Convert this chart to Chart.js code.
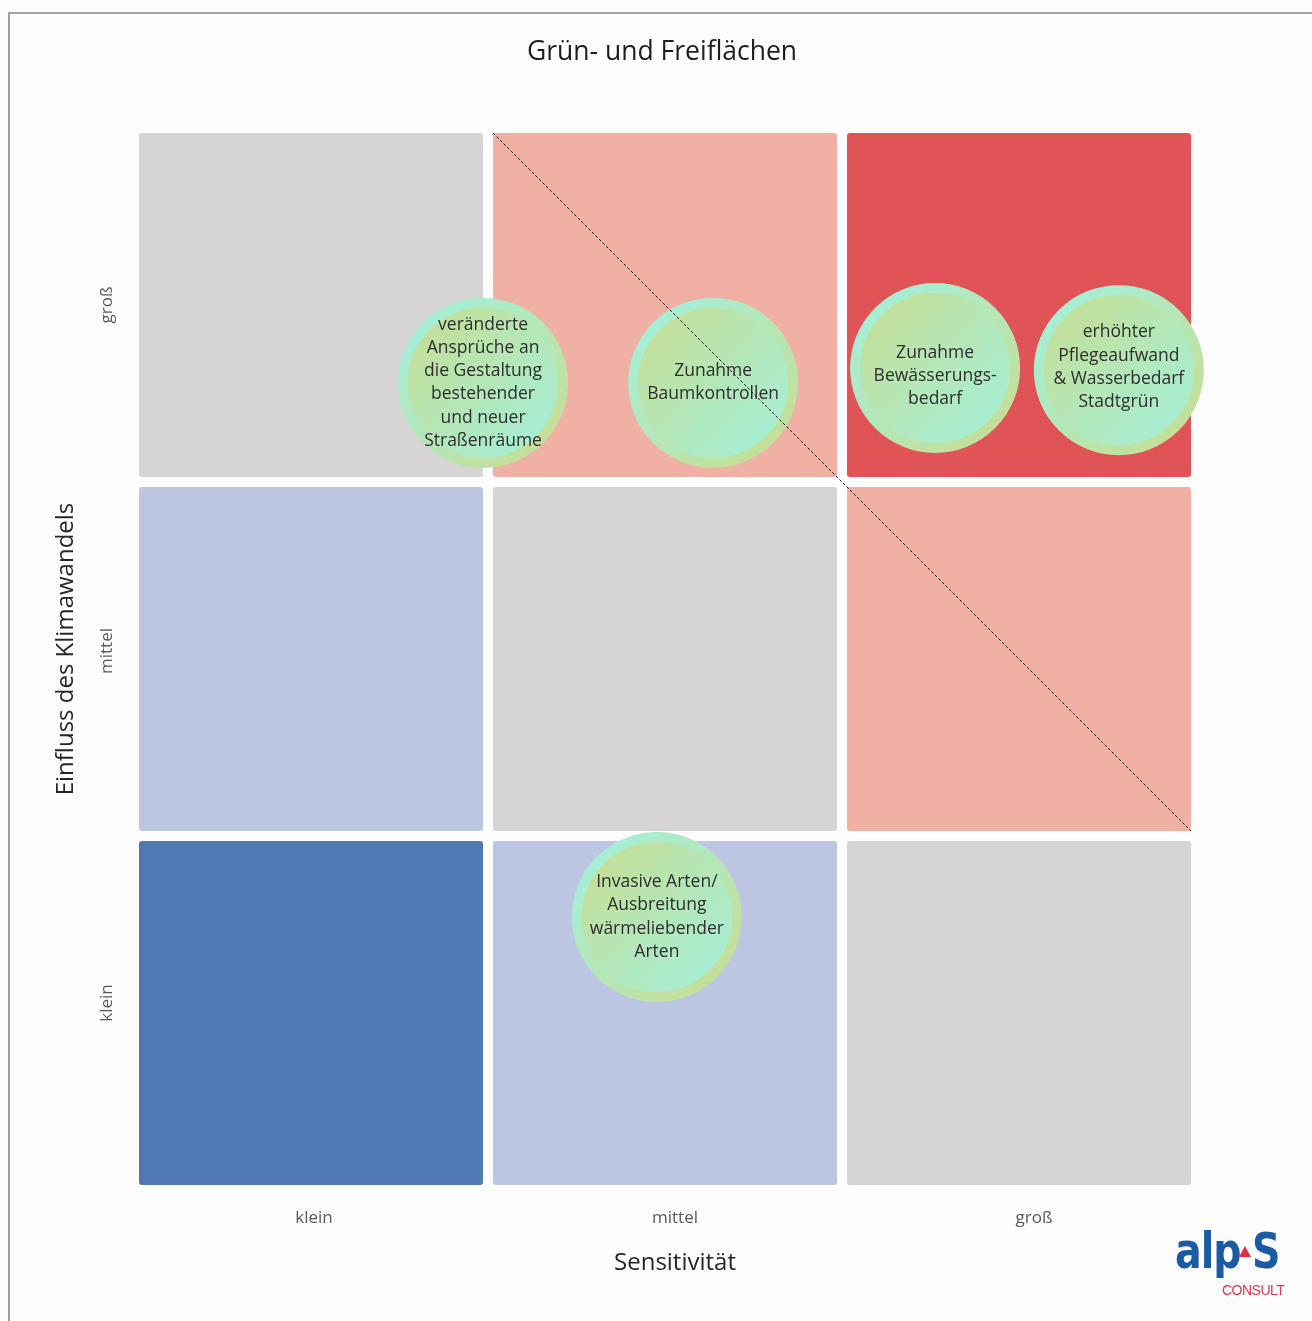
<!DOCTYPE html>
<html>
<head>
<meta charset="utf-8">
<script src="https://cdn.jsdelivr.net/npm/chart.js@4.4.1/dist/chart.umd.min.js"></script>
<style>
    html, body { margin: 0; padding: 0; background: #fdfdfd; }
    #wrap { position: absolute; left: 0; top: 0; width: 1312px; height: 1321px; }
    #frame {
        position: absolute; left: 8px; top: 12px; width: 1304px; height: 1309px;
        border-top: 2px solid #a2a2a2; border-left: 2px solid #a2a2a2; box-sizing: border-box;
        pointer-events: none;
    }
    #logo { position: absolute; left: 1172px; top: 1222px; width: 130px; height: 90px; }
    #logo .word {
        position: absolute; top: 0px; font-family: "DejaVu Sans Condensed", "DejaVu Sans";
        font-weight: bold; font-size: 44px; color: #1b5aa5; letter-spacing: -1px;
        transform-origin: 0 0; transform: scale(1, 1.12);
    }
    #logo .alp { left: 3px; }
    #logo .s { left: 80px; }
    #logo .tri {
        position: absolute; left: 67px; top: 24px; width: 0; height: 0;
        border-left: 6px solid transparent; border-right: 6px solid transparent;
        border-bottom: 11px solid #e03040;
    }
    #logo .consult {
        position: absolute; left: 50px; top: 60px; font-family: "Liberation Sans", sans-serif;
        font-size: 14px; color: #e0364a; letter-spacing: -0.5px;
    }
</style>
</head>
<body>
<div id="wrap"><canvas id="matrixChart"></canvas></div>
<div id="frame"></div>
<div id="logo">
    <span class="word alp">alp</span><span class="tri"></span><span class="word s">S</span>
    <span class="consult">CONSULT</span>
</div>
<script>
// Axis categories (x: Sensitivität, y: Einfluss des Klimawandels), from low to high
const xLabels = ["klein", "mittel", "groß"];
const yLabels = ["klein", "mittel", "groß"];

// risk level of each cell, rows from bottom (klein) to top (groß)
const cellLevels = [
    [0, 1, 2],
    [1, 2, 3],
    [2, 3, 4]
];

// impacts placed on the matrix
const impactTexts = [
    ["veränderte", "Ansprüche an", "die Gestaltung", "bestehender", "und neuer", "Straßenräume"],
    ["Zunahme", "Baumkontrollen"],
    ["Zunahme", "Bewässerungs-", "bedarf"],
    ["erhöhter", "Pflegeaufwand", "& Wasserbedarf", "Stadtgrün"],
    ["Invasive Arten/", "Ausbreitung", "wärmeliebender", "Arten"]
];
const impactX = [0.986, 1.636, 2.263, 2.782, 1.477];
const impactY = [2.280, 2.280, 2.322, 2.316, 0.771];

// dashed diagonal
const diagonalX = [1.014, 2.986];
const diagonalY = [2.986, 1.014];

const levelColors = ["#5079b3", "#bcc6e2", "#d6d5d3", "#f1b0a4", "#e05458"];

function bubbleGradient(ctx, reverse) {
    const chart = ctx.chart;
    const green = "#c3df98";
    const mint = "#a6eed6";
    if (!ctx.raw || !chart.scales.x) return green;
    const x = chart.scales.x.getPixelForValue(ctx.raw.x);
    const y = chart.scales.y.getPixelForValue(ctx.raw.y);
    if (!isFinite(x) || !isFinite(y)) return green;
    const g = chart.ctx.createLinearGradient(x - 60, y - 60, x + 60, y + 60);
    g.addColorStop(0, reverse ? mint : green);
    g.addColorStop(1, reverse ? green : mint);
    return g;
}

// draws the coloured cells behind everything, and the texts on top
const cellPlugin = {
    id: "cells",
    beforeDatasetsDraw(chart) {
        const { ctx, scales: { x, y } } = chart;
        ctx.save();
        for (let r = 0; r < cellLevels.length; r++) {
            for (let c = 0; c < cellLevels[r].length; c++) {
                const x0 = x.getPixelForValue(c) + 5;
                const x1 = x.getPixelForValue(c + 1) - 5;
                const y0 = y.getPixelForValue(r + 1) + 5;
                const y1 = y.getPixelForValue(r) - 5;
                ctx.fillStyle = levelColors[cellLevels[r][c]];
                ctx.beginPath();
                ctx.roundRect(x0, y0, x1 - x0, y1 - y0, 3);
                ctx.fill();
            }
        }
        ctx.restore();
    },
    afterDatasetsDraw(chart) {
        const { ctx, scales: { x, y } } = chart;
        const meta = chart.getDatasetMeta(1);
        ctx.save();
        // text inside the bubbles
        ctx.font = "17.5px 'Open Sans'";
        ctx.fillStyle = "#2e2e2e";
        ctx.textAlign = "center";
        ctx.textBaseline = "middle";
        const textShift = [0, 0, 8, -3, 0];
        meta.data.forEach((pt, i) => {
            const lines = impactTexts[i];
            const lh = 23.2;
            const top = pt.y + textShift[i] - (lines.length - 1) * lh / 2;
            lines.forEach((t, k) => ctx.fillText(t, pt.x, top + k * lh));
        });

        // title
        ctx.fillStyle = "#1e1e1e";
        ctx.font = "26.5px 'Open Sans'";
        ctx.fillText("Grün- und Freiflächen", 662, 52);

        // tick labels
        ctx.fillStyle = "#5a5a5a";
        ctx.font = "17px 'Open Sans'";
        const xOff = [3, 10, 15];
        xLabels.forEach((l, i) => ctx.fillText(l, x.getPixelForValue(i + 0.5) + xOff[i], 1218));
        const yOff = [-10, -8, 0];
        yLabels.forEach((l, i) => {
            ctx.save();
            ctx.translate(107, y.getPixelForValue(i + 0.5) + yOff[i]);
            ctx.rotate(-Math.PI / 2);
            ctx.fillText(l, 0, 0);
            ctx.restore();
        });

        // axis titles
        ctx.fillStyle = "#262626";
        ctx.font = "24px 'Open Sans'";
        ctx.fillText("Sensitivität", 675, 1263);
        ctx.save();
        ctx.translate(66, 649);
        ctx.rotate(-Math.PI / 2);
        ctx.fillText("Einfluss des Klimawandels", 0, 0);
        ctx.restore();
        ctx.restore();
    }
};

const ctx = document.getElementById("matrixChart").getContext("2d");

new Chart(ctx, {
    type: "bubble",
    data: {
        datasets: [{
            type: "line",
            data: diagonalX.map((v, i) => ({ x: v, y: diagonalY[i] })),
            borderColor: "#1a1a1a",
            borderWidth: 1,
            borderDash: [3, 2],
            pointRadius: 0,
            fill: false,
            order: 0
        }, {
            type: "bubble",
            data: impactX.map((v, i) => ({ x: v, y: impactY[i] })),
            radius: 80,
            borderWidth: 10,
            backgroundColor: c => bubbleGradient(c, false),
            borderColor: c => bubbleGradient(c, true),
            clip: false,
            order: 1
        }]
    },
    options: {
        responsive: true,
        maintainAspectRatio: false,
        animation: false,
        events: [],
        layout: { padding: { left: 134, right: 116, top: 128, bottom: 131 } },
        plugins: { legend: { display: false }, tooltip: { enabled: false } },
        scales: {
            x: { type: "linear", min: 0, max: 3, display: false },
            y: { type: "linear", min: 0, max: 3, display: false }
        }
    },
    plugins: [cellPlugin]
});
</script>
</body>
</html>
